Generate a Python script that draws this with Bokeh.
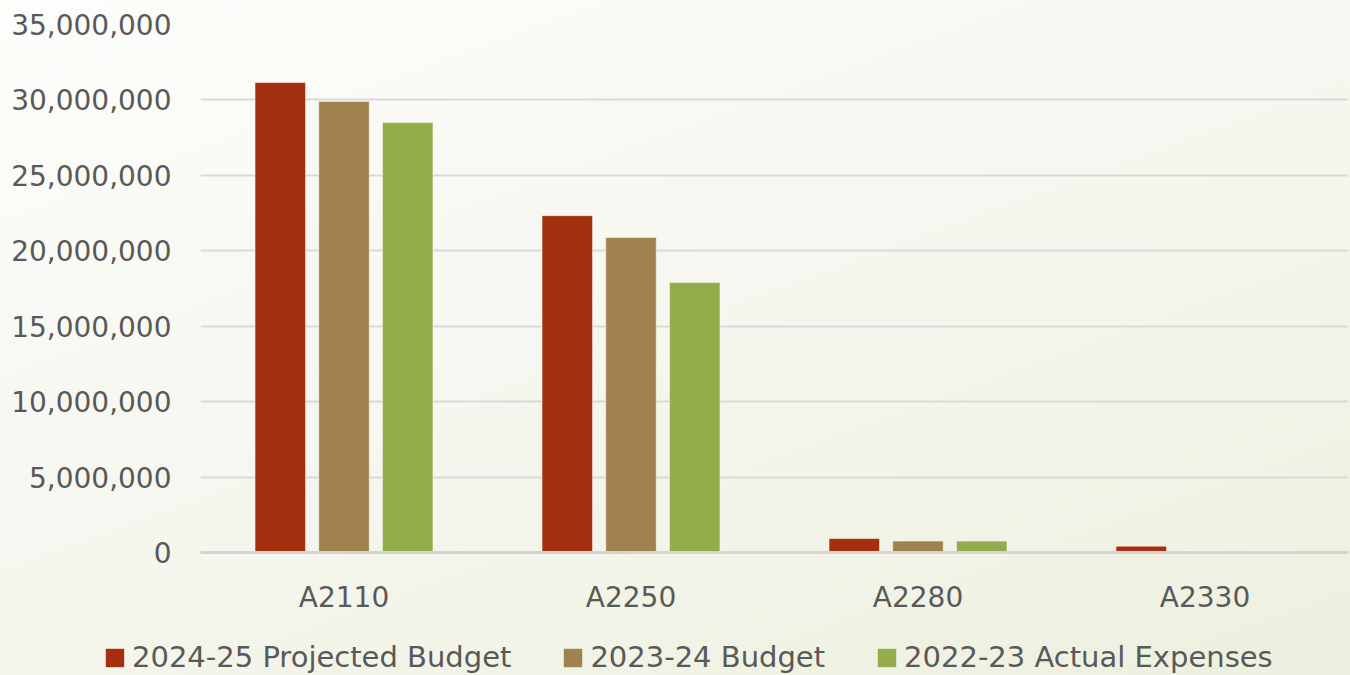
from bokeh.plotting import figure
from bokeh.layouts import column, row
from bokeh.models import (FactorRange, Range1d, FixedTicker, NumeralTickFormatter,
                          ColumnDataSource, Legend, LegendItem)
from bokeh.transform import dodge
from bokeh.embed import file_html
from bokeh.resources import INLINE

categories = ["A2110", "A2250", "A2280", "A2330"]
series_names = ["2024-25 Projected Budget", "2023-24 Budget", "2022-23 Actual Expenses"]
projected_2024_25 = [31150000, 22330000, 930000, 420000]
budget_2023_24 = [29900000, 20880000, 760000, 100000]
actual_2022_23 = [28500000, 17900000, 760000, 100000]
y_ticks = [0, 5000000, 10000000, 15000000, 20000000, 25000000, 30000000, 35000000]

colors = ["#A5300F", "#A0824F", "#94AC4C"]
FONT = "DejaVu Sans"
TEXT = "#595959"
FS = "28px"

src = ColumnDataSource(dict(cat=categories, s0=projected_2024_25,
                            s1=budget_2023_24, s2=actual_2022_23))

p = figure(frame_width=1148, frame_height=528, x_range=FactorRange(*categories),
           y_range=Range1d(0, 35000000), output_backend="svg",
           toolbar_location=None, min_border_left=200, min_border_right=2,
           min_border_top=24, min_border_bottom=78)
p.border_fill_color = None
p.background_fill_color = None
p.outline_line_color = None

offsets = [-0.222, 0.0, 0.222]
for i, key in enumerate(["s0", "s1", "s2"]):
    p.vbar(x=dodge("cat", offsets[i], range=p.x_range), top=key, width=0.176,
           source=src, fill_color=colors[i], line_color="white",
           line_alpha=0.5, line_width=1)

p.yaxis.ticker = FixedTicker(ticks=y_ticks)
p.yaxis.formatter = NumeralTickFormatter(format="0,0")
p.yaxis.axis_line_color = None
p.yaxis.major_tick_line_color = None
p.yaxis.minor_tick_line_color = None
p.yaxis.major_label_standoff = 23
p.yaxis.major_label_text_font = FONT
p.yaxis.major_label_text_font_size = FS
p.yaxis.major_label_text_color = TEXT

p.xaxis.axis_line_color = "#d4d4d4"
p.xaxis.axis_line_width = 3
p.xaxis.major_tick_line_color = None
p.xaxis.minor_tick_line_color = None
p.xaxis.major_label_standoff = 22
p.xaxis.major_label_text_font = FONT
p.xaxis.major_label_text_font_size = FS
p.xaxis.major_label_text_color = TEXT

p.xgrid.grid_line_color = None
p.ygrid.grid_line_color = "#d9d9d9"
p.ygrid.grid_line_width = 2
p.ygrid.ticker = FixedTicker(ticks=y_ticks)

# legend strip below the chart (its swatch renderers sit outside the visible range)
lg = figure(width=1350, height=45, x_range=Range1d(0, 1), y_range=Range1d(0, 1),
            output_backend="svg", toolbar_location=None,
            x_axis_location=None, y_axis_location=None,
            min_border_left=0, min_border_right=0, min_border_top=0, min_border_bottom=0)
lg.border_fill_color = None
lg.background_fill_color = None
lg.outline_line_color = None
lg.xgrid.grid_line_color = None
lg.ygrid.grid_line_color = None
swatches = [lg.vbar(x=[5], top=[1], width=0.1, fill_color=c, line_color=None) for c in colors]

legend = Legend(items=[LegendItem(label=series_names[i], renderers=[swatches[i]]) for i in range(3)],
                orientation="horizontal", location=(103, 1))
legend.label_text_font = FONT
legend.label_text_font_size = "29px"
legend.label_text_color = TEXT
legend.glyph_width = 23
legend.glyph_height = 23
legend.label_standoff = 6
legend.spacing = 50
legend.background_fill_alpha = 0
legend.border_line_color = None
legend.padding = 0
legend.margin = 0
lg.add_layout(legend, "center")

layout = column(p, row(lg), spacing=0)

html = file_html(layout, INLINE)
css = ("<style>html{height:100%;background:linear-gradient(160deg,#fdfdfb 0%,#f6f7f0 45%,#edf0de 100%) no-repeat;}"
       "body{background:transparent;}</style>")
html = html.replace("</head>", css + "</head>", 1)
open("out.html", "w").write(html)
